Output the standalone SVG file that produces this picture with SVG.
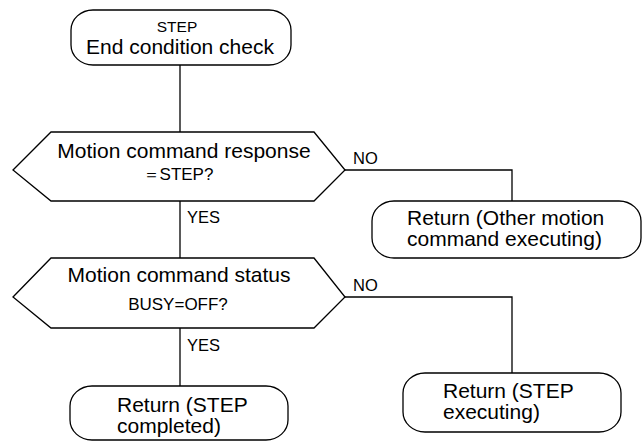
<svg xmlns="http://www.w3.org/2000/svg" width="642" height="442" viewBox="0 0 642 442">
<style>
.s{fill:#fff;stroke:#000;stroke-width:1.3}
.c{fill:none;stroke:#000;stroke-width:1.3}
.t{font-family:"Liberation Sans",Arial,sans-serif;fill:#000}
</style>
<rect width="642" height="442" fill="#fff"/>
<g id="connectors">
<path class="c" d="M180,65V132"/>
<path class="c" d="M180,201V258"/>
<path class="c" d="M180,328V386"/>
<path class="c" d="M345,170H512V201"/>
<path class="c" d="M345,297H512V373"/>
<text class="t" x="187" y="223" font-size="16.5">YES</text>
<text class="t" x="187" y="351" font-size="16.5">YES</text>
<text class="t" x="353" y="164" font-size="16.5">NO</text>
<text class="t" x="353" y="291" font-size="16.5">NO</text>
</g>
<g id="start">
<rect class="s" x="71" y="10" width="220" height="55" rx="22" ry="20"/>
<text class="t" x="177" y="32" font-size="15.5" text-anchor="middle">STEP</text>
<text class="t" x="180" y="54" font-size="21" text-anchor="middle">End condition check</text>
</g>
<g id="dec1">
<polygon class="s" points="13,170 51,132 314,132 345,170 314,201 51,201"/>
<text class="t" x="184" y="158" font-size="21" text-anchor="middle">Motion command response</text>
<text class="t" x="178" y="180" font-size="17" text-anchor="middle">＝STEP?</text>
</g>
<g id="ret1">
<rect class="s" x="372" y="201" width="269" height="57" rx="22" ry="20"/>
<text class="t" x="407" y="225" font-size="21">Return (Other motion</text>
<text class="t" x="407" y="246" font-size="21">command executing)</text>
</g>
<g id="dec2">
<polygon class="s" points="13,297 51,258 314,258 345,297 314,328 51,328"/>
<text class="t" x="179" y="282" font-size="21" text-anchor="middle">Motion command status</text>
<text class="t" x="178" y="310" font-size="17" text-anchor="middle">BUSY=OFF?</text>
</g>
<g id="ret2">
<rect class="s" x="403" y="373" width="218" height="59" rx="22" ry="20"/>
<text class="t" x="443" y="398" font-size="21">Return (STEP</text>
<text class="t" x="443" y="419" font-size="21">executing)</text>
</g>
<g id="ret3">
<rect class="s" x="70" y="386" width="218" height="54" rx="22" ry="20"/>
<text class="t" x="117" y="412" font-size="21">Return (STEP</text>
<text class="t" x="117" y="433" font-size="21">completed)</text>
</g>
</svg>
